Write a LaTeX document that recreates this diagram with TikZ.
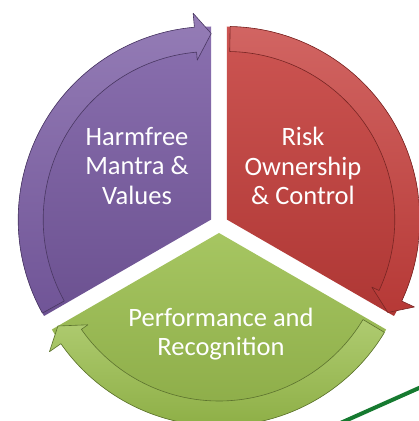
\documentclass[tikz,border=0pt]{standalone}
\usepackage{fontspec}
\setmainfont{Carlito}
\usepackage{tikz}
\usetikzlibrary{positioning}

\definecolor{harmviolet}{RGB}{122,92,164}
\definecolor{riskred}{RGB}{198,62,59}
\definecolor{perfgreen}{RGB}{154,190,76}
\definecolor{linegreen}{RGB}{22,122,48}

\begin{document}
\begin{tikzpicture}[x=1pt,y=1pt,
      part/.style={top color=#1!88!white,bottom color=#1!88!black},
      band/.style={top color=#1!80!white,bottom color=#1!92!black,
        draw=#1!60!black,line width=.6pt,line join=round},
      lbl/.style={text=white,align=center,font=\fontsize{26.5}{29.5}\selectfont}]
  \clip (0,0) rectangle (419,421);
  \fill[white] (0,0) rectangle (419,421);
  % cycle parts, each one with its curved arrow along the rim
  \foreach \vx/\vy/\a/\b/\col in {211.2/201.5/210/90/harmviolet,
      226.8/201.5/90/-30/riskred, 219/188/330/210/perfgreen} {
    \begin{scope}[shift={(\vx,\vy)}]
      \path[part=\col] (0,0) -- (\a:193)
        arc[start angle=\a, end angle=\b, radius=193] -- cycle;
      \path[band=\col] (\a-1:193)
        arc[start angle=\a-1, end angle=\b+5, radius=193]
        -- (\b+5:207) -- (\b:186) -- (\b+5:160) -- (\b+5:168)
        arc[start angle=\b+5, end angle=\a-1, radius=168] -- cycle;
    \end{scope}
  }
  \node[lbl] (harm) at (137,255) {Harmfree\\Mantra \&\\Values};
  \node[lbl] (risk) at (303,255) {Risk\\Ownership\\\& Control};
  \node[lbl] (perf) at (221,87) {Performance and\\Recognition};
  % green stroke in the corner
  \draw[linegreen,line width=4pt] (340,-2.2) -- (428,37);
\end{tikzpicture}
\end{document}
